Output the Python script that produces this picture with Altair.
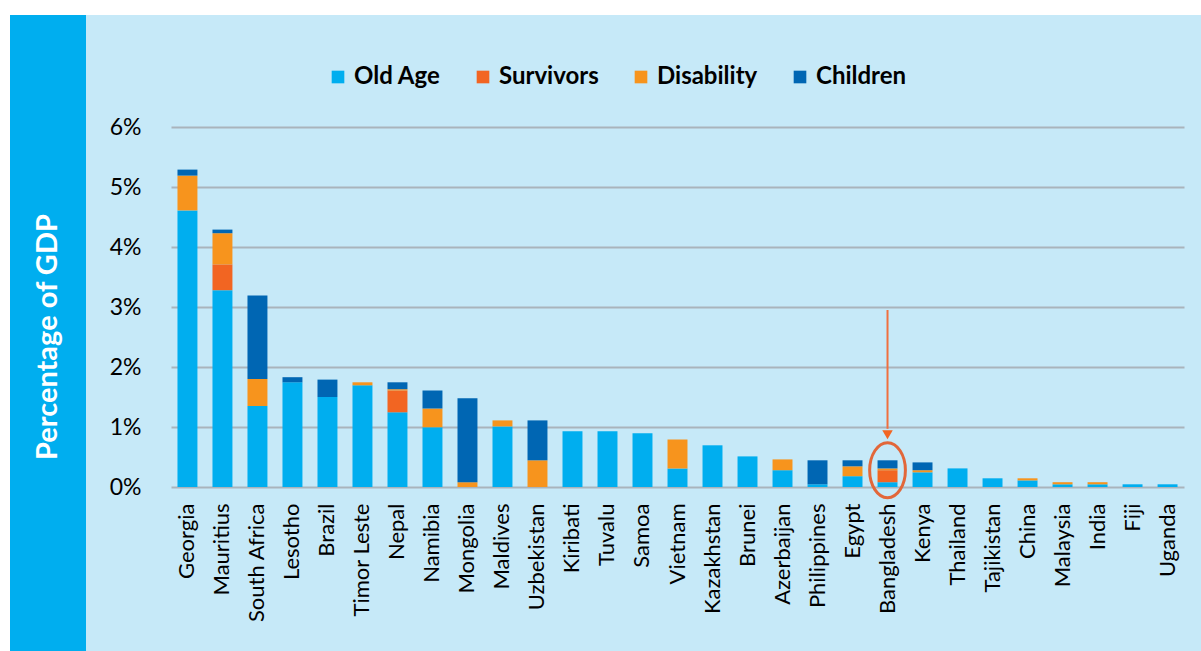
import altair as alt
import pandas as pd

countries = ["Georgia", "Mauritius", "South Africa", "Lesotho", "Brazil", "Timor Leste",
             "Nepal", "Namibia", "Mongolia", "Maldives", "Uzbekistan", "Kiribati", "Tuvalu",
             "Samoa", "Vietnam", "Kazakhstan", "Brunei", "Azerbaijan", "Philippines", "Egypt",
             "Bangladesh", "Kenya", "Thailand", "Tajikistan", "China", "Malaysia", "India",
             "Fiji", "Uganda"]
old_age = [4.61, 3.28, 1.35, 1.745, 1.50, 1.695, 1.245, 0.995, 0.0, 1.01, 0.0, 0.93, 0.93,
           0.895, 0.31, 0.695, 0.51, 0.28, 0.045, 0.18, 0.08, 0.245, 0.31, 0.145, 0.11,
           0.045, 0.045, 0.045, 0.045]
survivors = [0.0, 0.43, 0.0, 0.0, 0.0, 0.0, 0.365, 0.0, 0.0, 0.0, 0.0, 0.0, 0.0,
             0.0, 0.0, 0.0, 0.0, 0.0, 0.0, 0.0, 0.20, 0.0, 0.0, 0.0, 0.0,
             0.0, 0.0, 0.0, 0.0]
disability = [0.58, 0.52, 0.45, 0.0, 0.0, 0.05, 0.02, 0.315, 0.08, 0.10, 0.445, 0.0, 0.0,
              0.0, 0.48, 0.0, 0.0, 0.18, 0.0, 0.165, 0.03, 0.035, 0.0, 0.0, 0.035,
              0.035, 0.035, 0.0, 0.0]
children = [0.10, 0.06, 1.39, 0.085, 0.29, 0.0, 0.115, 0.30, 1.40, 0.0, 0.665, 0.0, 0.0,
            0.0, 0.0, 0.0, 0.0, 0.0, 0.40, 0.10, 0.135, 0.13, 0.0, 0.0, 0.0,
            0.0, 0.0, 0.0, 0.0]

series = ["Old Age", "Survivors", "Disability", "Children"]
colors = ["#00AEEF", "#F26522", "#F7941D", "#0066B3"]

rows = []
for i, c in enumerate(countries):
    for k, (name, vals) in enumerate(zip(series, [old_age, survivors, disability, children])):
        rows.append({"country": c, "type": name, "value": vals[i] / 100.0, "ord": k})
df = pd.DataFrame(rows)

FONT = "Lato"
W, H = 1013, 360
PL, PT = 171, 127

bars = alt.Chart(df).mark_bar().encode(
    x=alt.X("country:N", sort=countries,
            scale=alt.Scale(paddingInner=0.43, paddingOuter=0.185),
            axis=alt.Axis(title=None, labelAngle=270, labelFontSize=22, labelColor="#000000",
                          labelFont=FONT, ticks=False, domain=False, labelPadding=16)),
    y=alt.Y("value:Q", stack="zero",
            scale=alt.Scale(domain=[0, 0.06]),
            axis=alt.Axis(title=None, format=".0%", values=[0, 0.01, 0.02, 0.03, 0.04, 0.05, 0.06],
                          labelFontSize=23, labelColor="#000000", labelFont=FONT,
                          ticks=False, domain=False, labelPadding=30,
                          gridColor="#A9B4BC", gridWidth=2)),
    color=alt.Color("type:N", scale=alt.Scale(domain=series, range=colors),
                    legend=alt.Legend(title=None, orient="none", direction="horizontal",
                                      legendX=155, legendY=-62,
                                      symbolType="square", symbolSize=160, symbolStrokeWidth=0,
                                      labelFontSize=24, labelFontWeight="bold", labelFont=FONT,
                                      labelColor="#000000", columnPadding=30, labelOffset=4)),
    order=alt.Order("ord:Q", sort="ascending"),
)

one = pd.DataFrame({"a": [0]})
white_top = alt.Chart(one).mark_rect(color="#FFFFFF").encode(
    x=alt.value(-PL), x2=alt.value(W + 40), y=alt.value(-PT), y2=alt.value(15 - PT))
white_left = alt.Chart(one).mark_rect(color="#FFFFFF").encode(
    x=alt.value(-PL), x2=alt.value(10 - PL), y=alt.value(-PT), y2=alt.value(651 - PT))
strip = alt.Chart(one).mark_rect(color="#00AEEF").encode(
    x=alt.value(10 - PL), x2=alt.value(86 - PL), y=alt.value(15 - PT), y2=alt.value(651 - PT))
ytitle = alt.Chart(pd.DataFrame({"t": ["Percentage of GDP"]})).mark_text(
    angle=270, color="#FFFFFF", fontSize=29, fontWeight="bold", font=FONT,
    align="center", baseline="middle").encode(
    x=alt.value(48 - PL), y=alt.value(337 - PT), text="t:N")

ann = pd.DataFrame({"country": ["Bangladesh"], "y0": [0.0295], "y1": [0.0097],
                    "yh": [0.0087], "ye": [0.0028]})
arrow = alt.Chart(ann).mark_rule(color="#F0703F", strokeWidth=2).encode(
    x=alt.X("country:N", sort=countries), y="y0:Q", y2="y1:Q")
head = alt.Chart(ann).mark_point(shape="triangle-down", filled=True, color="#F26522",
                                 size=110, opacity=1).encode(
    x=alt.X("country:N", sort=countries), y="yh:Q")
ellipse = alt.Chart(ann).mark_point(
    shape="M -0.65 0 A 0.65 1 0 1 1 0.65 0 A 0.65 1 0 1 1 -0.65 0 Z",
    filled=False, color="#E2673A", strokeWidth=3, size=3025, opacity=1).encode(
    x=alt.X("country:N", sort=countries), y="ye:Q")

chart = alt.layer(white_top, white_left, strip, ytitle, bars, arrow, head, ellipse).properties(
    width=W, height=H,
    background="#C6E9F8",
    padding={"left": PL, "top": PT, "right": 1201 - PL - W, "bottom": 651 - PT - H},
    autosize=alt.AutoSizeParams(type="none"),
).configure_view(stroke=None).configure_axis(grid=True).configure_axisX(grid=False)

chart.save("out.html", embed_options={"renderer": "svg", "actions": False})
